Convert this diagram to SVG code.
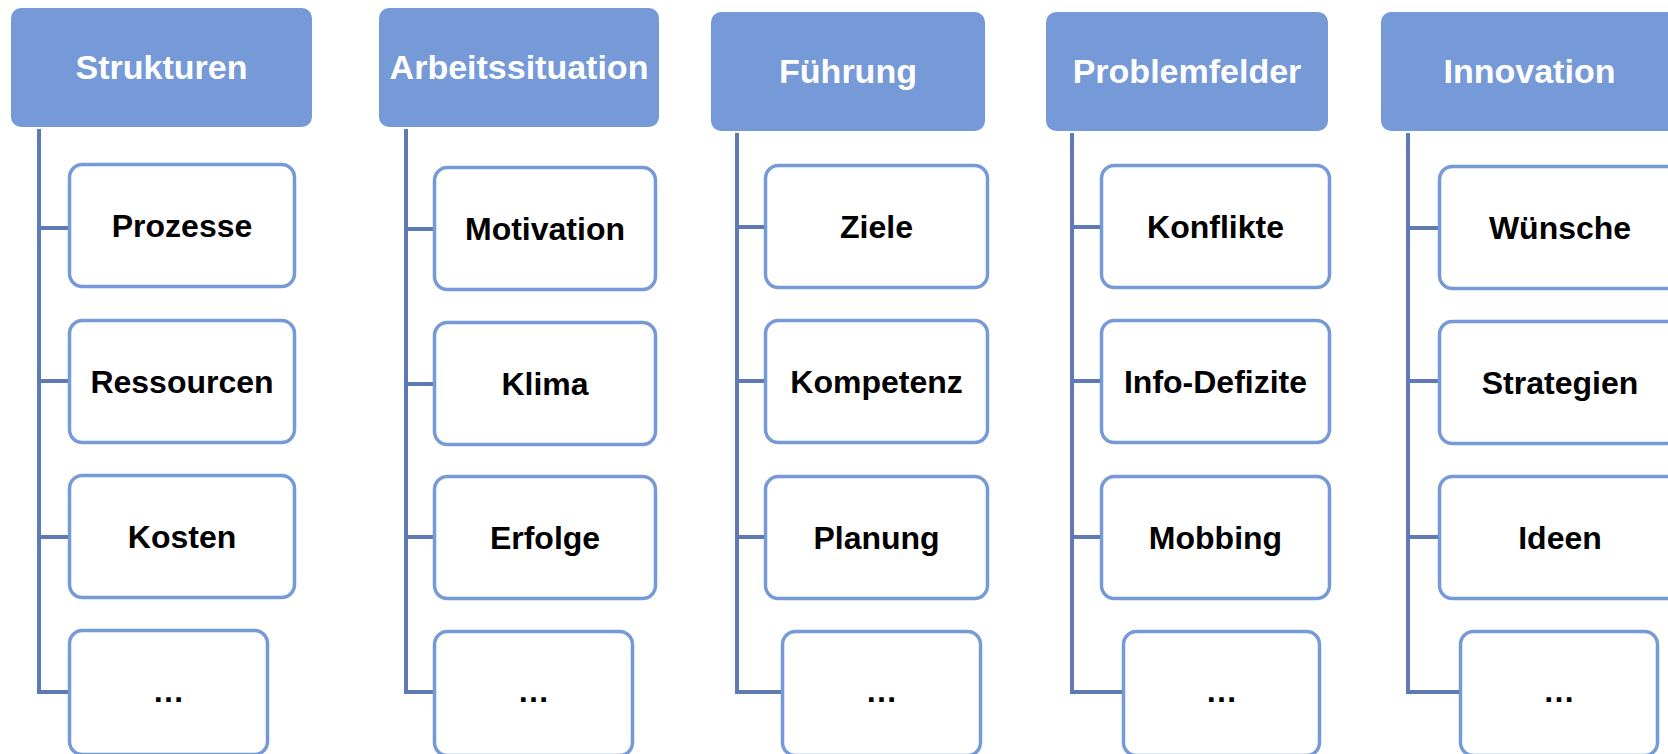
<svg xmlns="http://www.w3.org/2000/svg" width="1668" height="754" viewBox="0 0 1668 754">
<style>
.hdr{fill:#7699d7;}
.hdr-t{fill:#ffffff;font-family:"Liberation Sans",Arial,sans-serif;font-weight:bold;font-size:34px;text-anchor:middle;}
.box{fill:#ffffff;stroke:#7699d7;stroke-width:3.5;}
.box-t{fill:#000000;font-family:"Liberation Sans",Arial,sans-serif;font-weight:bold;font-size:32px;text-anchor:middle;}
.con{fill:none;stroke:#5d7ab2;stroke-width:4;stroke-linejoin:miter;}
</style>
<rect width="1668" height="754" fill="#ffffff"/>
<g id="connectors">
<path class="con" d="M39,129 V692 H70 M39,228 H70 M39,381 H70 M39,537 H70"/>
<path class="con" d="M406,129 V692 H435 M406,229 H435 M406,384 H435 M406,537 H435"/>
<path class="con" d="M737,133 V692 H783 M737,227 H766 M737,381 H766 M737,537 H766"/>
<path class="con" d="M1072,133 V692 H1124 M1072,227 H1102 M1072,381 H1102 M1072,537 H1102"/>
<path class="con" d="M1408,133 V692 H1461 M1408,228 H1440 M1408,381 H1440 M1408,537 H1440"/>
</g>
<g id="col-strukturen">
<g id="h-strukturen"><rect class="hdr" x="11" y="8" width="301" height="119" rx="10"/><text class="hdr-t" x="161.5" y="79">Strukturen</text></g>
<g id="n-prozesse"><rect class="box" x="69.5" y="164.5" width="225" height="122" rx="13"/><text class="box-t" x="182" y="237">Prozesse</text></g>
<g id="n-ressourcen"><rect class="box" x="69.5" y="320.5" width="225" height="122" rx="13"/><text class="box-t" x="182" y="393">Ressourcen</text></g>
<g id="n-kosten"><rect class="box" x="69.5" y="475.5" width="225" height="122" rx="13"/><text class="box-t" x="182" y="548">Kosten</text></g>
<g id="n-more1"><rect class="box" x="69.5" y="630.5" width="198" height="124" rx="13"/><text class="box-t" x="168.5" y="702">…</text></g>
</g>
<g id="col-arbeitssituation">
<g id="h-arbeitssituation"><rect class="hdr" x="379" y="8" width="280" height="119" rx="10"/><text class="hdr-t" x="519" y="79">Arbeitssituation</text></g>
<g id="n-motivation"><rect class="box" x="434.5" y="167.5" width="221" height="122" rx="13"/><text class="box-t" x="545" y="240">Motivation</text></g>
<g id="n-klima"><rect class="box" x="434.5" y="322.5" width="221" height="122" rx="13"/><text class="box-t" x="545" y="395">Klima</text></g>
<g id="n-erfolge"><rect class="box" x="434.5" y="476.5" width="221" height="122" rx="13"/><text class="box-t" x="545" y="549">Erfolge</text></g>
<g id="n-more2"><rect class="box" x="434.5" y="631.5" width="198" height="124" rx="13"/><text class="box-t" x="533.5" y="702">…</text></g>
</g>
<g id="col-fuehrung">
<g id="h-fuehrung"><rect class="hdr" x="711" y="12" width="274" height="119" rx="10"/><text class="hdr-t" x="848" y="83">Führung</text></g>
<g id="n-ziele"><rect class="box" x="765.5" y="165.5" width="222" height="122" rx="13"/><text class="box-t" x="876.5" y="238">Ziele</text></g>
<g id="n-kompetenz"><rect class="box" x="765.5" y="320.5" width="222" height="122" rx="13"/><text class="box-t" x="876.5" y="393">Kompetenz</text></g>
<g id="n-planung"><rect class="box" x="765.5" y="476.5" width="222" height="122" rx="13"/><text class="box-t" x="876.5" y="549">Planung</text></g>
<g id="n-more3"><rect class="box" x="782.5" y="631.5" width="198" height="124" rx="13"/><text class="box-t" x="881.5" y="702">…</text></g>
</g>
<g id="col-problemfelder">
<g id="h-problemfelder"><rect class="hdr" x="1046" y="12" width="282" height="119" rx="10"/><text class="hdr-t" x="1187" y="83">Problemfelder</text></g>
<g id="n-konflikte"><rect class="box" x="1101.5" y="165.5" width="228" height="122" rx="13"/><text class="box-t" x="1215.5" y="238">Konflikte</text></g>
<g id="n-infodefizite"><rect class="box" x="1101.5" y="320.5" width="228" height="122" rx="13"/><text class="box-t" x="1215.5" y="393">Info-Defizite</text></g>
<g id="n-mobbing"><rect class="box" x="1101.5" y="476.5" width="228" height="122" rx="13"/><text class="box-t" x="1215.5" y="549">Mobbing</text></g>
<g id="n-more4"><rect class="box" x="1123.5" y="631.5" width="196" height="124" rx="13"/><text class="box-t" x="1221.5" y="702">…</text></g>
</g>
<g id="col-innovation">
<g id="h-innovation"><rect class="hdr" x="1381" y="12" width="297" height="119" rx="10"/><text class="hdr-t" x="1529.5" y="83">Innovation</text></g>
<g id="n-wuensche"><rect class="box" x="1439.5" y="166.5" width="241" height="122" rx="13"/><text class="box-t" x="1560" y="239">Wünsche</text></g>
<g id="n-strategien"><rect class="box" x="1439.5" y="321.5" width="241" height="122" rx="13"/><text class="box-t" x="1560" y="394">Strategien</text></g>
<g id="n-ideen"><rect class="box" x="1439.5" y="476.5" width="241" height="122" rx="13"/><text class="box-t" x="1560" y="549">Ideen</text></g>
<g id="n-more5"><rect class="box" x="1460.5" y="631.5" width="197" height="124" rx="13"/><text class="box-t" x="1559" y="702">…</text></g>
</g>
</svg>
